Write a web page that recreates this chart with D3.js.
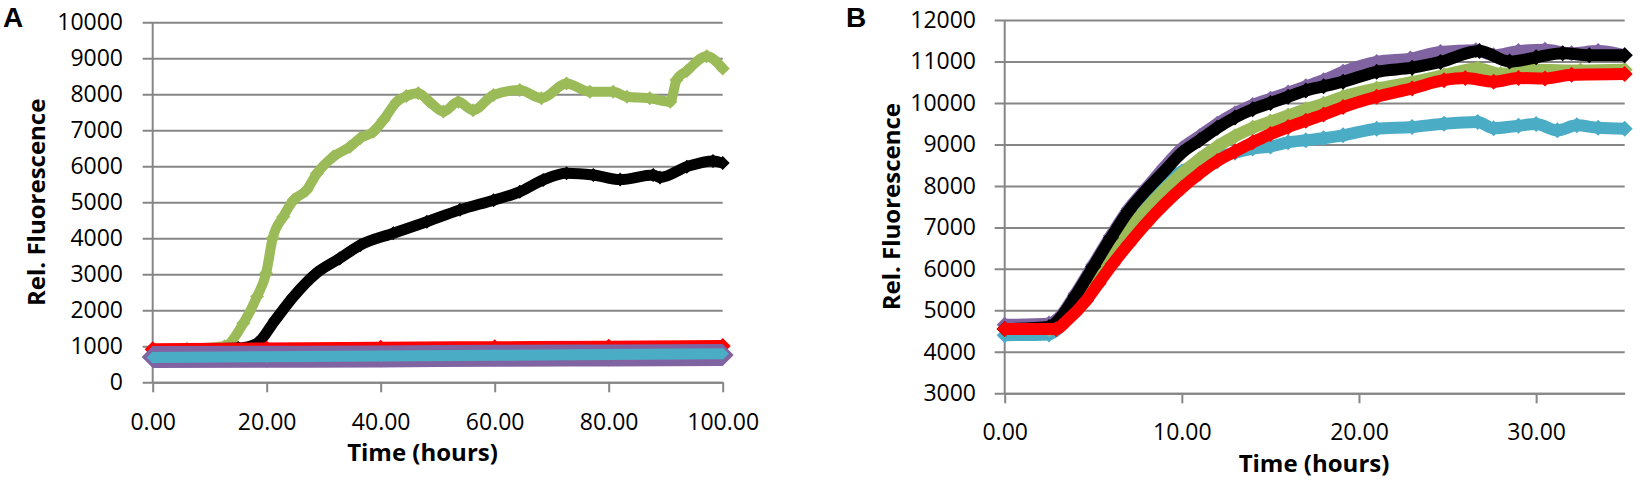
<!DOCTYPE html>
<html>
<head>
<meta charset="utf-8">
<script src="https://cdn.jsdelivr.net/npm/d3@7"></script>
<style>
  body { margin: 0; background: #ffffff; }
  #graf { width: 1643px; height: 482px; }
  .grid .tick line, .ejeX .tick line, .ejeX .domain, .ejeY { stroke: #868686; stroke-width: 2px; }
  .grid .domain { display: none; }
  .tick text { fill: #000000; }
</style>
</head>
<body>
<div id="graf"></div>
<script>
// Dos paneles: A (0-100 h) y B (0-35 h), fluorescencia relativa

// Ticks
ticksXA = [0, 20, 40, 60, 80, 100]
ticksYA = [0, 1000, 2000, 3000, 4000, 5000, 6000, 7000, 8000, 9000, 10000]
ticksXB = [0, 10, 20, 30]
ticksYB = [3000, 4000, 5000, 6000, 7000, 8000, 9000, 10000, 11000, 12000]

// Panel A  [horas, fluorescencia]
aGreen = [[0, 900], [6, 930], [12.6, 1000], [15.9, 1640], [18.3, 2380], [19.9, 3030], [21.05, 4000],
  [22.9, 4600], [24.7, 5060], [27, 5340], [28.8, 5800], [31.7, 6270], [34.6, 6540], [36.4, 6780],
  [38.7, 6960], [40.5, 7290], [42.8, 7790], [44.5, 7950], [46.6, 8030], [48.5, 7800], [51, 7520],
  [53.6, 7790], [56.2, 7560], [59.8, 7980], [64.4, 8120], [68.2, 7890], [72.6, 8300], [76.7, 8070],
  [80.8, 8070], [83.2, 7930], [87.2, 7890], [90.8, 7790], [91.9, 8400], [93.7, 8650], [97.2, 9060],
  [100, 8720]]
aBlack = [[0, 900], [15, 950], [18.3, 1083], [21.5, 1730], [24.7, 2380], [28.7, 3030], [32.8, 3440],
  [36.4, 3810], [42.2, 4140], [48.1, 4460], [53.9, 4790], [59.8, 5060], [64.4, 5290], [68.5, 5620],
  [72.6, 5810], [77.3, 5760], [82, 5630], [87.8, 5760], [89, 5690], [93.7, 5990], [98.3, 6150],
  [100, 6090]]
aRed = [[0, 920], [20, 940], [40, 960], [60, 975], [80, 990], [100, 1010]]
aPurple = [[0, 700], [20, 710], [40, 720], [60, 735], [80, 745], [100, 755]]
aCyan = [[0, 690], [20, 710], [40, 730], [60, 750], [80, 770], [100, 790]]

// Panel B
bCyan = [[0, 4400], [2.5, 4420], [3, 4550], [4, 5250], [5, 6000], [6, 6700], [7, 7300], [8, 7800],
  [9, 8100], [10, 8350], [11, 8550], [12, 8700], [13, 8800], [14, 8900], [15, 8950], [16, 9050],
  [17, 9100], [18, 9150], [19.1, 9220], [21, 9380], [23, 9420], [24.8, 9500], [26.7, 9540],
  [27.6, 9390], [29, 9450], [30, 9490], [31.2, 9340], [32.3, 9460], [33.5, 9400], [35, 9380]]
bGreen = [[0, 4550], [2.5, 4550], [3, 4650], [4, 5150], [5, 5750], [6, 6350], [7, 6950], [8, 7450],
  [9, 7900], [10, 8300], [11, 8650], [12, 8950], [13, 9200], [14, 9400], [15, 9550], [16, 9700],
  [17, 9850], [18, 9980], [19.1, 10150], [21, 10350], [23, 10500], [24.8, 10670], [26.7, 10830],
  [28, 10700], [30, 10800], [32.5, 10780], [35, 10800]]
bPurple = [[0, 4650], [2.5, 4680], [3, 4800], [4, 5400], [5, 6100], [6, 6800], [7, 7450], [8, 7950],
  [9, 8450], [10, 8900], [11, 9200], [12, 9500], [13, 9750], [14, 9950], [15, 10100], [16, 10250],
  [17, 10400], [18, 10550], [19.1, 10750], [21, 10990], [22.9, 11070], [24.6, 11230], [26.6, 11270],
  [27.6, 11150], [29, 11250], [30.5, 11280], [32, 11200], [33.5, 11250], [35, 11150]]
bBlack = [[0, 4550], [2.5, 4600], [3, 4750], [4, 5350], [5, 6050], [6, 6750], [7, 7400], [8, 7900],
  [9, 8350], [10, 8800], [11, 9100], [12, 9400], [13, 9650], [14, 9850], [15, 10000], [16, 10150],
  [17, 10300], [18, 10400], [19.1, 10510], [21, 10750], [23, 10850], [24.6, 10990], [26.8, 11250],
  [28.5, 11000], [30, 11100], [31.5, 11200], [33, 11150], [35, 11150]]
bRed = [[0, 4550], [2.9, 4550], [3.5, 4750], [4.6, 5240], [5.3, 5650], [6.1, 6120], [7, 6600],
  [8, 7100], [9, 7550], [10, 7950], [11, 8300], [12, 8600], [13, 8830], [14, 9050], [15, 9250],
  [16, 9420], [17, 9570], [18, 9720], [19.1, 9900], [21, 10150], [23, 10350], [24.8, 10550],
  [26, 10600], [27.6, 10510], [29, 10600], [30.5, 10590], [32, 10680], [35, 10700]]

verde   = '#9bbb59'
negro   = '#000000'
rojo    = '#ff0000'
morado  = '#8064a2'
celeste = '#4bacc6'

fuenteTicks  = 'Open Sans'
fuenteTitulo = 'Open Sans'

svg = d3.select('#graf').append('svg')
        .attr('width', 1643)
        .attr('height', 482)

// Un panel completo: ejes, rejilla, series y textos
function panel(cfg) {
  x = d3.scaleLinear().domain(cfg.xDom).range([cfg.left, cfg.right])
  y = d3.scaleLinear().domain(cfg.yDom).range([cfg.bottom, cfg.top])

  // rejilla horizontal con sus etiquetas (eje anclado a la derecha)
  largo = cfg.right - cfg.left + 10
  svg.append('g')
    .attr('class', 'grid')
    .attr('transform', `translate(${cfg.right}, 0)`)
    .call(d3.axisLeft(y)
            .tickValues(cfg.yTicks)
            .tickFormat(d3.format('d'))
            .tickSize(largo)
            .tickPadding(cfg.right - cfg.yLabelX - largo))
    .attr('font-family', fuenteTicks)
    .attr('font-size', 23)

  // eje x
  svg.append('g')
    .attr('class', 'ejeX')
    .attr('transform', `translate(0, ${cfg.bottom})`)
    .call(d3.axisBottom(x)
            .tickValues(cfg.xTicks)
            .tickSize(10)
            .tickSizeOuter(0)
            .tickPadding(cfg.xPad)
            .tickFormat(d3.format('.2f')))
    .attr('font-family', fuenteTicks)
    .attr('font-size', 23)

  // eje y (solo la linea)
  svg.append('line')
    .attr('class', 'ejeY')
    .attr('x1', cfg.left)
    .attr('x2', cfg.left)
    .attr('y1', cfg.top)
    .attr('y2', cfg.bottom)

  cfg.series.forEach(s => {
    linea = d3.line()
              .x(d => x(d[0]))
              .y(d => y(d[1]))
              .curve(d3.curveMonotoneX)

    svg.append('path')
      .datum(s.data)
      .attr('d', linea)
      .attr('fill', 'none')
      .attr('stroke', s.color)
      .attr('stroke-width', s.w)
      .attr('stroke-linejoin', 'round')

    svg.append('g')
      .selectAll('path')
      .data(s.data)
      .enter()
      .append('path')
        .attr('d', `M0,${-s.r}L${s.r},0L0,${s.r}L${-s.r},0Z`)
        .attr('transform', d => `translate(${x(d[0])}, ${y(d[1])})`)
        .attr('fill', s.color)
  })

  // titulos
  svg.append('text')
    .attr('x', cfg.xTitleX)
    .attr('y', cfg.xTitleY)
    .attr('text-anchor', 'middle')
    .attr('font-family', fuenteTitulo)
    .attr('font-weight', 'bold')
    .attr('font-size', 24)
    .text('Time (hours)')

  svg.append('text')
    .attr('transform', `translate(${cfg.yTitleX}, ${(cfg.top + cfg.bottom) / 2}) rotate(-90)`)
    .attr('text-anchor', 'middle')
    .attr('font-family', fuenteTitulo)
    .attr('font-weight', 'bold')
    .attr('font-size', 24)
    .text('Rel. Fluorescence')

  svg.append('text')
    .attr('x', cfg.letraX)
    .attr('y', 27)
    .attr('font-family', 'Liberation Sans')
    .attr('font-weight', 'bold')
    .attr('font-size', 28)
    .text(cfg.letra)
}

panel({
  letra: 'A', letraX: 3,
  left: 152.7, right: 722.7, top: 22.3, bottom: 382.3,
  xDom: [0, 100], yDom: [0, 10000],
  xTicks: ticksXA, yTicks: ticksYA,
  yLabelX: 123, xPad: 21,
  xTitleX: 422.5, xTitleY: 461,
  yTitleX: 45,
  series: [
    { data: aGreen,  color: verde,   w: 10, r: 7 },
    { data: aBlack,  color: negro,   w: 11, r: 7 },
    { data: aRed,    color: rojo,    w: 12, r: 8 },
    { data: aPurple, color: morado,  w: 22, r: 11 },
    { data: aCyan,   color: celeste, w: 11, r: 6 }
  ]
})

panel({
  letra: 'B', letraX: 846,
  left: 1004.7, right: 1624.7, top: 20, bottom: 393.3,
  xDom: [0, 35], yDom: [3000, 12000],
  xTicks: ticksXB, yTicks: ticksYB,
  yLabelX: 976, xPad: 20,
  xTitleX: 1314, xTitleY: 471.5,
  yTitleX: 900,
  series: [
    { data: bCyan,   color: celeste, w: 12, r: 8 },
    { data: bGreen,  color: verde,   w: 12, r: 8 },
    { data: bPurple, color: morado,  w: 12, r: 8 },
    { data: bBlack,  color: negro,   w: 12, r: 8 },
    { data: bRed,    color: rojo,    w: 12, r: 8 }
  ]
})
</script>
</body>
</html>
